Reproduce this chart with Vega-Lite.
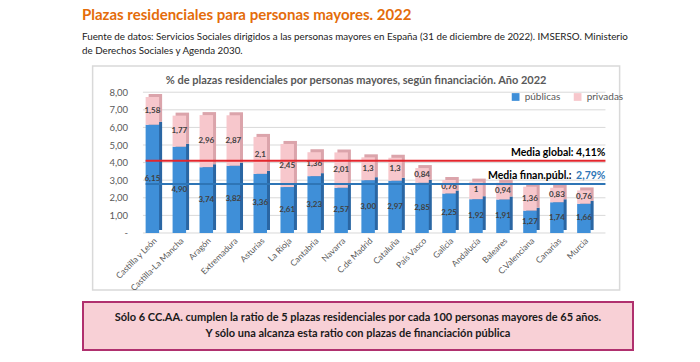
{
  "$schema": "https://vega.github.io/schema/vega-lite/v6.json",
  "background": "white",
  "padding": {"left": 82, "top": 8, "right": 10, "bottom": 5},
  "config": {
    "font": "Lato",
    "locale": {"number": {"decimal": ",", "thousands": ".", "grouping": [3], "currency": ["", " €"]}},
    "view": {"stroke": null},
    "axisY": {"labelOverlap": false, "tickCount": 13}
  },
  "title": {
    "text": "Plazas residenciales para personas mayores. 2022",
    "subtitle": ["Fuente de datos: Servicios Sociales dirigidos a las personas mayores en España (31 de diciembre de 2022). IMSERSO. Ministerio", "de Derechos Sociales y Agenda 2030."],
    "anchor": "start",
    "fontSize": 15,
    "fontWeight": "bold",
    "color": "#E46C0A",
    "subtitleFontSize": 9.8,
    "subtitleColor": "#222222",
    "subtitlePadding": 9,
    "subtitleLineHeight": 14,
    "offset": 9
  },
  "datasets": {
    "plazas": [
      {"region": "Castilla y León", "tipo": "públicas", "v": 6.15, "lab": "6,15"},
      {"region": "Castilla y León", "tipo": "privadas", "v": 1.58, "lab": "1,58"},
      {"region": "Castilla-La Mancha", "tipo": "públicas", "v": 4.90, "lab": "4,90"},
      {"region": "Castilla-La Mancha", "tipo": "privadas", "v": 1.77, "lab": "1,77"},
      {"region": "Aragón", "tipo": "públicas", "v": 3.74, "lab": "3,74"},
      {"region": "Aragón", "tipo": "privadas", "v": 2.96, "lab": "2,96"},
      {"region": "Extremadura", "tipo": "públicas", "v": 3.82, "lab": "3,82"},
      {"region": "Extremadura", "tipo": "privadas", "v": 2.87, "lab": "2,87"},
      {"region": "Asturias", "tipo": "públicas", "v": 3.36, "lab": "3,36"},
      {"region": "Asturias", "tipo": "privadas", "v": 2.1, "lab": "2,1"},
      {"region": "La Rioja", "tipo": "públicas", "v": 2.61, "lab": "2,61"},
      {"region": "La Rioja", "tipo": "privadas", "v": 2.45, "lab": "2,45"},
      {"region": "Cantabria", "tipo": "públicas", "v": 3.23, "lab": "3,23"},
      {"region": "Cantabria", "tipo": "privadas", "v": 1.36, "lab": "1,36"},
      {"region": "Navarra", "tipo": "públicas", "v": 2.57, "lab": "2,57"},
      {"region": "Navarra", "tipo": "privadas", "v": 2.01, "lab": "2,01"},
      {"region": "C.de Madrid", "tipo": "públicas", "v": 3.00, "lab": "3,00"},
      {"region": "C.de Madrid", "tipo": "privadas", "v": 1.3, "lab": "1,3"},
      {"region": "Cataluña", "tipo": "públicas", "v": 2.97, "lab": "2,97"},
      {"region": "Cataluña", "tipo": "privadas", "v": 1.3, "lab": "1,3"},
      {"region": "País Vasco", "tipo": "públicas", "v": 2.85, "lab": "2,85"},
      {"region": "País Vasco", "tipo": "privadas", "v": 0.84, "lab": "0,84"},
      {"region": "Galicia", "tipo": "públicas", "v": 2.25, "lab": "2,25"},
      {"region": "Galicia", "tipo": "privadas", "v": 0.76, "lab": "0,76"},
      {"region": "Andalucía", "tipo": "públicas", "v": 1.92, "lab": "1,92"},
      {"region": "Andalucía", "tipo": "privadas", "v": 1, "lab": "1"},
      {"region": "Baleares", "tipo": "públicas", "v": 1.91, "lab": "1,91"},
      {"region": "Baleares", "tipo": "privadas", "v": 0.94, "lab": "0,94"},
      {"region": "C.Valenciana", "tipo": "públicas", "v": 1.27, "lab": "1,27"},
      {"region": "C.Valenciana", "tipo": "privadas", "v": 1.36, "lab": "1,36"},
      {"region": "Canarias", "tipo": "públicas", "v": 1.74, "lab": "1,74"},
      {"region": "Canarias", "tipo": "privadas", "v": 0.83, "lab": "0,83"},
      {"region": "Murcia", "tipo": "públicas", "v": 1.66, "lab": "1,66"},
      {"region": "Murcia", "tipo": "privadas", "v": 0.76, "lab": "0,76"}
    ],
    "grid": [{"g": 0}, {"g": 1}, {"g": 2}, {"g": 3}, {"g": 4}, {"g": 5}, {"g": 6}, {"g": 7}, {"g": 8}],
    "nota": [
      {"n": 1, "t": "Sólo 6 CC.AA. cumplen la ratio de 5 plazas residenciales por cada 100 personas mayores de 65 años."},
      {"n": 2, "t": "Y sólo una alcanza esta ratio con plazas de financiación pública"}
    ]
  },
  "spacing": 8,
  "center": true,
  "vconcat": [
    {
      "width": 527,
      "height": 224,
      "view": {"stroke": "#d9d9d9", "strokeWidth": 1.5, "fill": "white"},
      "title": {
        "text": "% de plazas residenciales por personas mayores, según financiación. Año 2022",
        "fontSize": 11,
        "fontWeight": "bold",
        "color": "#595959",
        "offset": -20,
        "anchor": "middle"
      },
      "resolve": {"scale": {"color": "independent"}},
      "layer": [
        {
          "data": {"name": "grid"},
          "mark": {"type": "rule", "color": "#d9d9d9", "strokeWidth": 1},
          "encoding": {
            "y": {
              "field": "g", "type": "quantitative",
              "scale": {"domain": [-3.24, 9.49], "nice": false, "zero": false},
              "axis": {"values": [0, 1, 2, 3, 4, 5, 6, 7, 8], "format": ".2f", "labelExpr": "datum.value === 0 ? '-' : (datum.value < 0 || datum.value > 8 ? '' : datum.label)", "labelOverlap": false, "offset": -38, "domain": false, "ticks": false, "grid": false, "title": null, "labelFontSize": 9.5, "labelColor": "#595959", "labelPadding": 3}
            },
            "x": {
              "datum": "Castilla y León", "type": "nominal", "bandPosition": -0.2,
              "scale": {"domain": ["Castilla y León", "Castilla-La Mancha", "Aragón", "Extremadura", "Asturias", "La Rioja", "Cantabria", "Navarra", "C.de Madrid", "Cataluña", "País Vasco", "Galicia", "Andalucía", "Baleares", "C.Valenciana", "Canarias", "Murcia"], "range": [53, 498], "paddingInner": 0.5, "paddingOuter": 0},
              "axis": {"title": null, "labelAngle": -45, "offset": -57, "domain": false, "ticks": false, "labelFontSize": 8.5, "labelColor": "#595959", "labelPadding": 3, "labelOverlap": false}
            },
            "x2": {"datum": "Murcia", "bandPosition": 2.1}
          }
        },
        {
          "data": {"name": "plazas"},
          "mark": {"type": "bar", "xOffset": 3, "yOffset": -3},
          "encoding": {
            "x": {"field": "region", "type": "nominal", "sort": null},
            "y": {"field": "v", "type": "quantitative", "stack": "zero",
              "axis": {"values": [0, 1, 2, 3, 4, 5, 6, 7, 8], "format": ".2f", "labelExpr": "datum.value === 0 ? '-' : (datum.value < 0 || datum.value > 8 ? '' : datum.label)", "labelOverlap": false, "offset": -38, "domain": false, "ticks": false, "grid": false, "title": null, "labelFontSize": 9.5, "labelColor": "#595959", "labelPadding": 3}},
            "color": {"field": "tipo", "type": "nominal", "scale": {"domain": ["públicas", "privadas"], "range": ["#2a66a3", "#dba4ab"]}, "legend": null},
            "order": {"field": "tipo", "sort": "descending"}
          }
        },
        {
          "data": {"name": "plazas"},
          "mark": {"type": "bar"},
          "encoding": {
            "x": {"field": "region", "type": "nominal", "sort": null},
            "y": {"field": "v", "type": "quantitative", "stack": "zero",
              "axis": {"values": [0, 1, 2, 3, 4, 5, 6, 7, 8], "format": ".2f", "labelExpr": "datum.value === 0 ? '-' : (datum.value < 0 || datum.value > 8 ? '' : datum.label)", "labelOverlap": false, "offset": -38, "domain": false, "ticks": false, "grid": false, "title": null, "labelFontSize": 9.5, "labelColor": "#595959", "labelPadding": 3}},
            "color": {
              "field": "tipo", "type": "nominal",
              "scale": {"domain": ["públicas", "privadas"], "range": ["#3f8fd8", "#f7c7cc"]},
              "legend": {"orient": "none", "legendX": 418, "legendY": 26, "direction": "horizontal", "title": null, "symbolType": "square", "symbolSize": 60, "labelFontSize": 10, "labelColor": "#595959", "columnPadding": 12, "symbolStrokeWidth": 0}
            },
            "order": {"field": "tipo", "sort": "descending"}
          }
        },
        {
          "data": {"name": "plazas"},
          "mark": {"type": "text", "fontSize": 8, "fontWeight": "bold", "color": "#404040"},
          "encoding": {
            "x": {"field": "region", "type": "nominal", "sort": null},
            "y": {"field": "v", "type": "quantitative", "stack": "zero", "bandPosition": 0.5},
            "detail": {"field": "tipo"},
            "order": {"field": "tipo", "sort": "descending"},
            "text": {"field": "lab"}
          }
        },
        {
          "data": {"values": [{"media": 4.11, "txt": "Media global: 4,11%"}]},
          "layer": [
            {
              "mark": {"type": "rule", "color": "#e3262d", "strokeWidth": 2},
              "encoding": {
                "y": {"field": "media", "type": "quantitative"},
                "x": {"datum": "Castilla y León", "type": "nominal", "bandPosition": 0},
                "x2": {"datum": "Murcia", "bandPosition": 2.1}
              }
            },
            {
              "mark": {"type": "text", "align": "right", "baseline": "bottom", "fontSize": 10.5, "fontWeight": "bold", "color": "#000000", "dy": -3},
              "encoding": {
                "y": {"field": "media", "type": "quantitative"},
                "x": {"datum": "Murcia", "type": "nominal", "bandPosition": 2.1},
                "text": {"field": "txt"}
              }
            }
          ]
        },
        {
          "data": {"values": [{"media": 2.79, "txt": "Media finan.públ.:", "val": "2,79%"}]},
          "layer": [
            {
              "mark": {"type": "rule", "color": "#2e75b6", "strokeWidth": 2},
              "encoding": {
                "y": {"field": "media", "type": "quantitative"},
                "x": {"datum": "Castilla y León", "type": "nominal", "bandPosition": 0},
                "x2": {"datum": "Murcia", "bandPosition": 2.1}
              }
            },
            {
              "mark": {"type": "text", "align": "right", "baseline": "bottom", "fontSize": 10.5, "fontWeight": "bold", "color": "#000000", "dy": -3, "dx": -34},
              "encoding": {
                "y": {"field": "media", "type": "quantitative"},
                "x": {"datum": "Murcia", "type": "nominal", "bandPosition": 2.1},
                "text": {"field": "txt"}
              }
            },
            {
              "mark": {"type": "text", "align": "right", "baseline": "bottom", "fontSize": 10.5, "fontWeight": "bold", "color": "#2e75b6", "dy": -3},
              "encoding": {
                "y": {"field": "media", "type": "quantitative"},
                "x": {"datum": "Murcia", "type": "nominal", "bandPosition": 2.1},
                "text": {"field": "val"}
              }
            }
          ]
        }
      ]
    },
    {
      "width": 550,
      "height": 48,
      "view": {"fill": "#f8d0d6", "stroke": "#b0306e", "strokeWidth": 2},
      "data": {"name": "nota"},
      "mark": {"type": "text", "fontSize": 11, "fontWeight": "bold", "color": "#1a1a1a"},
      "encoding": {
        "y": {"field": "n", "type": "ordinal", "axis": null, "scale": {"padding": 1}},
        "text": {"field": "t"}
      }
    }
  ]
}
